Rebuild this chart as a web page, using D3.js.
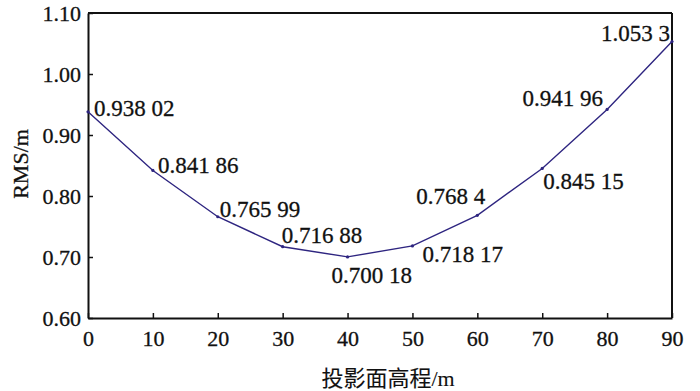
<!DOCTYPE html>
<html>
<head>
<meta charset="utf-8">
<script src="https://cdn.jsdelivr.net/npm/d3@7"></script>
<style>
  body { margin: 0; background: #fff; }
  svg { display: block; }
  svg text { font-family: "Liberation Serif", "Times New Roman", Times, "DejaVu Serif", serif !important; fill: #111; stroke: #111; stroke-width: 0.3px; }
  svg text.cjk { font-family: "Liberation Serif", "Noto Sans CJK SC", serif !important; stroke-width: 0.1px; }
</style>
</head>
<body>
<div id="chart"></div>
<script>
// Data
const heights = [0, 10, 20, 30, 40, 50, 60, 70, 80, 90];
const rmsValues = [0.93802, 0.84186, 0.76599, 0.71688, 0.70018, 0.71817, 0.7684, 0.84515, 0.94196, 1.0533];
const pointLabels = ["0.938 02", "0.841 86", "0.765 99", "0.716 88", "0.700 18", "0.718 17", "0.768 4", "0.845 15", "0.941 96", "1.053 3"];
const xTicks = [0, 10, 20, 30, 40, 50, 60, 70, 80, 90];
const yTicks = [0.60, 0.70, 0.80, 0.90, 1.00, 1.10];

const data = heights.map((h, i) => ({ h: h, v: rmsValues[i], label: pointLabels[i] }));

// Set up dimensions
const W = 700, H = 391;
const margin = {top: 13, right: 28, bottom: 73, left: 88};
const width = W - margin.left - margin.right;
const height = H - margin.top - margin.bottom;

const svg = d3.select("#chart")
    .append("svg")
    .attr("width", W)
    .attr("height", H)
    .append("g")
    .attr("transform", `translate(${margin.left},${margin.top})`);

const x = d3.scaleLinear().domain([0, 90]).range([0, width]);
const y = d3.scaleLinear().domain([0.60, 1.10]).range([height, 0]);

// X axis (ticks inside)
const xAxis = svg.append("g")
    .attr("transform", `translate(0,${height})`)
    .call(d3.axisBottom(x).tickValues(xTicks).tickFormat(d3.format("d"))
        .tickSizeInner(-5).tickSizeOuter(0).tickPadding(12));
xAxis.selectAll("text").style("font-size", "22px").attr("dy", "0.71em");

// Y axis (ticks inside)
const yAxis = svg.append("g")
    .call(d3.axisLeft(y).tickValues(yTicks).tickFormat(d3.format(".2f"))
        .tickSizeInner(-5).tickSizeOuter(0).tickPadding(7));
yAxis.selectAll("text").style("font-size", "22px").attr("dy", "0.34em");

svg.selectAll(".domain").attr("stroke", "#111").attr("stroke-width", 2);
svg.selectAll(".tick line").attr("stroke", "#111").attr("stroke-width", 1.5);

// Box: top and right edges
svg.append("line").attr("x1", 0).attr("x2", width).attr("y1", 0).attr("y2", 0)
    .attr("stroke", "#111").attr("stroke-width", 2);
svg.append("line").attr("x1", width).attr("x2", width).attr("y1", 0).attr("y2", height)
    .attr("stroke", "#111").attr("stroke-width", 2);

// Line
const line = d3.line().x(d => x(d.h)).y(d => y(d.v));
svg.append("path")
    .datum(data)
    .attr("fill", "none")
    .attr("stroke", "#2e2580")
    .attr("stroke-width", 1.4)
    .attr("d", line);

svg.selectAll(".pt")
    .data(data)
    .join("circle")
    .attr("class", "pt")
    .attr("cx", d => x(d.h))
    .attr("cy", d => y(d.v))
    .attr("r", 1.6)
    .attr("fill", "#2e2580");

// Label placement around each point: [dx, dy, anchor]
const labelPlace = [
    [6, 4, "start"],
    [5, 3, "start"],
    [2, 0, "start"],
    [-1, -4, "start"],
    [-16, 26, "start"],
    [10, 16, "start"],
    [8, -11, "end"],
    [1, 21, "start"],
    [-4, -3, "end"],
    [-2, 0, "end"]
];

svg.selectAll(".lbl")
    .data(data)
    .join("text")
    .attr("class", "lbl")
    .attr("x", (d, i) => x(d.h) + labelPlace[i][0])
    .attr("y", (d, i) => y(d.v) + labelPlace[i][1])
    .attr("text-anchor", (d, i) => labelPlace[i][2])
    .style("font-size", "23px")
    .text(d => d.label);

// Axis titles
svg.append("text")
    .attr("class", "cjk")
    .attr("x", width / 2 + 8)
    .attr("y", height + 68)
    .attr("text-anchor", "middle")
    .style("font-size", "22px")
    .text("投影面高程/m");

svg.append("text")
    .attr("transform", "rotate(-90)")
    .attr("x", -151)
    .attr("y", -margin.left + 28)
    .attr("text-anchor", "middle")
    .style("font-size", "22px")
    .text("RMS/m");
</script>
</body>
</html>
